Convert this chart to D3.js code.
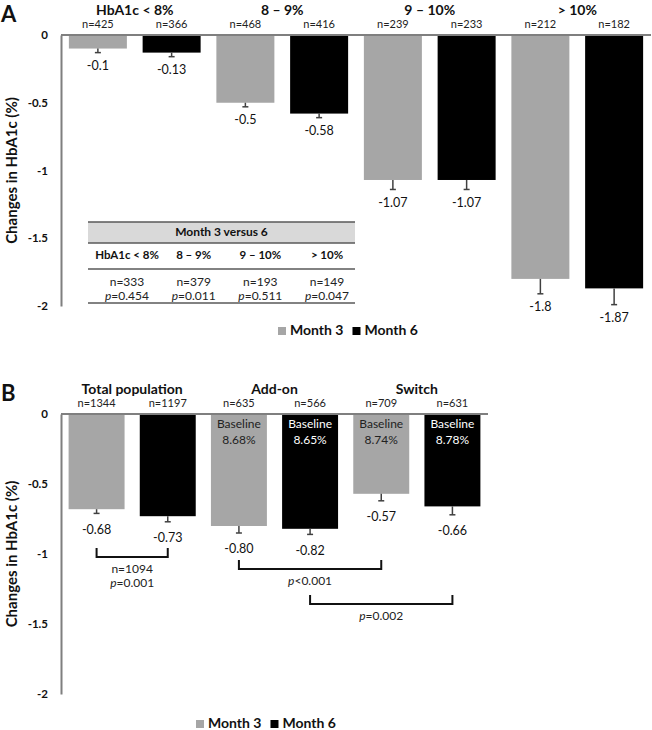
<!DOCTYPE html>
<html><head><meta charset="utf-8">
<script src="https://cdn.jsdelivr.net/npm/d3@7"></script>
<style>
body{margin:0;background:#fff;}
svg{display:block;font-family:Lato,"Open Sans",sans-serif;}
</style></head>
<body><svg id="c" width="652" height="730"></svg>
<script>
// ---- Data ----
const seriesNames = ["Month 3", "Month 6"];
const seriesColors = ["#a6a6a6", "#000000"];

const groupsA = ["HbA1c < 8%", "8 – 9%", "9 – 10%", "> 10%"];
const month3A = [-0.1, -0.5, -1.07, -1.8];
const month6A = [-0.13, -0.58, -1.07, -1.87];
const err3A = [0.03, 0.03, 0.07, 0.11];
const err6A = [0.03, 0.03, 0.07, 0.12];
const n3A = [425, 468, 239, 212];
const n6A = [366, 416, 233, 182];

const tableTitle = "Month 3 versus 6";
const tableCols = ["HbA1c < 8%", "8 – 9%", "9 – 10%", "> 10%"];
const tableN = [333, 379, 193, 149];
const tableP = ["=0.454", "=0.011", "=0.511", "=0.047"];

const groupsB = ["Total population", "Add-on", "Switch"];
const month3B = [-0.68, -0.80, -0.57];
const month6B = [-0.73, -0.82, -0.66];
const err3B = [0.03, 0.05, 0.05];
const err6B = [0.04, 0.04, 0.06];
const n3B = [1344, 635, 709];
const n6B = [1197, 566, 631];
const baseline3B = [null, "8.68%", "8.74%"];
const baseline6B = [null, "8.65%", "8.78%"];
// comparisons: [group, series] from -> to
const compFrom = [[0,0],[1,0],[1,1]];
const compTo   = [[0,1],[2,0],[2,1]];
const compText = [["n=1094","=0.001"],["<0.001"],["=0.002"]];

const yTicks = [0, -0.5, -1, -1.5, -2];

const svg = d3.select("#c");

function panel(opts){
  const g = svg.append("g");
  const y = d3.scaleLinear().domain([0,-2]).range([opts.y0, opts.y1]);
  const keys = [];
  opts.groups.forEach((gr,i)=>seriesNames.forEach((s,j)=>keys.push(i+"|"+j)));
  const x = d3.scaleBand().domain(keys).range([61, opts.xEnd]).paddingInner(0.2136).paddingOuter(0.1068);
  const bars = [];
  opts.groups.forEach((gr,i)=>{
    [opts.m3, opts.m6].forEach((arr,j)=>{
      bars.push({g:i, s:j, v:arr[i], e:[opts.e3,opts.e6][j][i], n:[opts.n3,opts.n6][j][i],
                 base: opts.b3 ? [opts.b3,opts.b6][j][i] : null, key:i+"|"+j});
    });
  });
  // bars
  g.selectAll("rect.bar").data(bars).join("rect").attr("class","bar")
    .attr("x",d=>x(d.key)).attr("width",x.bandwidth())
    .attr("y",y(0)).attr("height",d=>y(d.v)-y(0))
    .attr("fill",d=>seriesColors[d.s]);
  // error bars
  const eb = g.selectAll("g.eb").data(bars).join("g").attr("class","eb")
    .attr("stroke","#404040").attr("stroke-width",1.5);
  eb.append("line").attr("x1",d=>x(d.key)+x.bandwidth()/2).attr("x2",d=>x(d.key)+x.bandwidth()/2)
    .attr("y1",d=>y(d.v)).attr("y2",d=>y(d.v-d.e));
  eb.append("line").attr("x1",d=>x(d.key)+x.bandwidth()/2-3).attr("x2",d=>x(d.key)+x.bandwidth()/2+3)
    .attr("y1",d=>y(d.v-d.e)).attr("y2",d=>y(d.v-d.e));
  // value labels
  g.selectAll("text.val").data(bars).join("text").attr("class","val")
    .attr("x",d=>x(d.key)+x.bandwidth()/2).attr("y",d=>y(d.v-d.e)+opts.labOff)
    .attr("text-anchor","middle").attr("dominant-baseline","middle")
    .attr("font-size",12.5).attr("fill","#111").text(d=>opts.fmt(d.v));
  // n labels
  g.selectAll("text.n").data(bars).join("text").attr("class","n")
    .attr("x",d=>x(d.key)+x.bandwidth()/2).attr("y",y(0)-10)
    .attr("text-anchor","middle").attr("dominant-baseline","middle")
    .attr("font-size",11).attr("fill","#222").text(d=>"n="+d.n);
  // group titles
  g.selectAll("text.gt").data(opts.groups).join("text").attr("class","gt")
    .attr("x",(d,i)=>(x(i+"|0")+x(i+"|1")+x.bandwidth())/2).attr("y",y(0)-20)
    .attr("text-anchor","middle")
    .attr("font-size",14).attr("font-weight","bold").attr("fill","#111").text(d=>d);
  // baseline labels
  const bl = bars.filter(d=>d.base);
  g.selectAll("text.bl1").data(bl).join("text")
    .attr("x",d=>x(d.key)+x.bandwidth()/2).attr("y",y(0)+11)
    .attr("text-anchor","middle").attr("dominant-baseline","middle").attr("font-size",12)
    .attr("fill",d=>d.s===1?"#fff":"#222").text("Baseline");
  g.selectAll("text.bl2").data(bl).join("text")
    .attr("x",d=>x(d.key)+x.bandwidth()/2).attr("y",y(0)+27)
    .attr("text-anchor","middle").attr("dominant-baseline","middle").attr("font-size",12)
    .attr("fill",d=>d.s===1?"#fff":"#222").text(d=>d.base);
  // axis
  const ax = g.append("g").attr("transform","translate(61,0)")
    .call(d3.axisLeft(y).tickValues(yTicks).tickSize(0).tickPadding(13).tickFormat(d=>String(d)));
  ax.select(".domain").attr("stroke","#7f7f7f").attr("stroke-width",2);
  ax.selectAll("text").attr("font-size",11.5).attr("font-weight","bold").attr("fill","#111")
    .attr("font-family","Lato,sans-serif");
  // zero line
  g.append("line").attr("x1",61).attr("x2",opts.xEnd).attr("y1",y(0)).attr("y2",y(0))
    .attr("stroke","#7f7f7f").attr("stroke-width",2);
  // y title
  g.append("text").attr("transform",`translate(13,${(opts.y0+opts.y1)/2}) rotate(-90)`)
    .attr("text-anchor","middle").attr("dominant-baseline","middle")
    .attr("font-size",15).attr("font-weight","bold").attr("fill","#111").text("Changes in HbA1c (%)");
  // panel letter
  g.append("text").attr("x",1).attr("y",opts.y0-19).attr("font-size",22).attr("font-weight","bold")
    .attr("dominant-baseline","middle").attr("fill","#111").text(opts.letter);
  // legend
  const lg = g.append("g").attr("transform",`translate(${opts.legX},${opts.legY})`);
  let lx = 0;
  seriesNames.forEach((s,j)=>{
    lg.append("rect").attr("x",lx).attr("y",-4).attr("width",8).attr("height",8).attr("fill",seriesColors[j]);
    const t = lg.append("text").attr("x",lx+12).attr("y",0).attr("dominant-baseline","middle")
      .attr("font-size",14).attr("font-weight","bold").attr("fill","#111").text(s);
    lx += 12 + t.node().getComputedTextLength() + 9;
  });
  return {x,y,g};
}

// Panel A
const A = panel({letter:"A", groups:groupsA, m3:month3A, m6:month6A, e3:err3A, e6:err6A, n3:n3A, n6:n6A,
  y0:35, y1:306, xEnd:651, labOff:14, fmt:v=>String(v), legX:278, legY:331});

// Table
(function(){
  const t = svg.append("g");
  const tx0 = 88, tx1 = 355;
  const colX = d3.scalePoint().domain(tableCols).range([127,327]);
  t.append("rect").attr("x",tx0).attr("y",222).attr("width",tx1-tx0).attr("height",21).attr("fill","#d9d9d9");
  [222,243,269,303].forEach(yy=>t.append("line").attr("x1",tx0).attr("x2",tx1).attr("y1",yy).attr("y2",yy)
    .attr("stroke","#595959").attr("stroke-width",1.5));
  t.append("text").attr("x",(tx0+tx1)/2).attr("y",233).attr("text-anchor","middle").attr("dominant-baseline","middle")
    .attr("font-size",12).attr("font-weight","bold").attr("fill","#111").text(tableTitle);
  tableCols.forEach((c,i)=>{
    t.append("text").attr("x",colX(c)).attr("y",256).attr("text-anchor","middle").attr("dominant-baseline","middle")
      .attr("font-size",11.5).attr("font-weight","bold").attr("fill","#111").text(c);
    t.append("text").attr("x",colX(c)).attr("y",283).attr("text-anchor","middle").attr("dominant-baseline","middle")
      .attr("font-size",12).attr("fill","#222").text("n="+tableN[i]);
    const pt = t.append("text").attr("x",colX(c)).attr("y",297).attr("text-anchor","middle").attr("dominant-baseline","middle")
      .attr("font-size",12).attr("fill","#222");
    pt.append("tspan").attr("font-style","italic").text("p");
    pt.append("tspan").text(tableP[i]);
  });
})();

// Panel B
const B = panel({letter:"B", groups:groupsB, m3:month3B, m6:month6B, e3:err3B, e6:err6B, n3:n3B, n6:n6B,
  b3:baseline3B, b6:baseline6B, y0:414, y1:694, xEnd:488, labOff:17, fmt:v=>v.toFixed(2), legX:196, legY:724});

// comparison brackets
(function(){
  const x = B.x, bw = B.x.bandwidth();
  const tops = [548, 560, 595];
  compFrom.forEach((f,i)=>{
    const x1 = x(f[0]+"|"+f[1]) + bw/2, x2 = x(compTo[i][0]+"|"+compTo[i][1]) + bw/2;
    const yt = tops[i], yb = yt+9;
    svg.append("path").attr("d",`M${x1},${yt}V${yb}H${x2}V${yt}`).attr("fill","none")
      .attr("stroke","#111").attr("stroke-width",2);
    compText[i].forEach((s,k)=>{
      const tt = svg.append("text").attr("x",(x1+x2)/2).attr("y",yb+13+k*14)
        .attr("text-anchor","middle").attr("dominant-baseline","middle").attr("font-size",12).attr("fill","#222");
      if (s.startsWith("n=")) tt.text(s);
      else { tt.append("tspan").attr("font-style","italic").text("p"); tt.append("tspan").text(s); }
    });
  });
})();
</script></body></html>
